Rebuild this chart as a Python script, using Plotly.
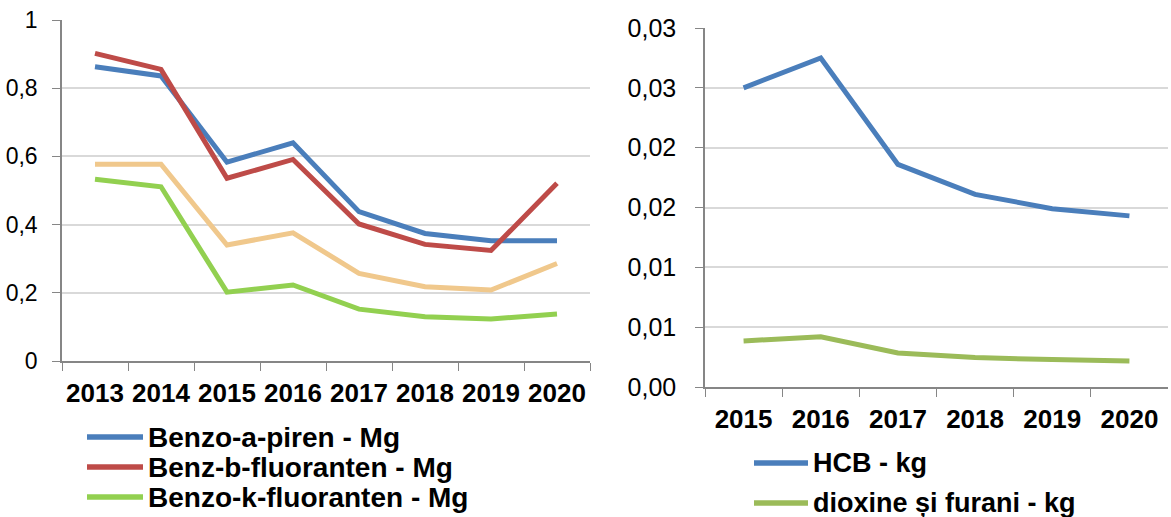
"""Emisii POP - doua grafice cu linii."""

import plotly.graph_objects as go

ani_stanga = ["2013", "2014", "2015", "2016", "2017", "2018", "2019", "2020"]
benzo_a_piren = [0.863, 0.836, 0.583, 0.640, 0.438, 0.374, 0.353, 0.353]
benz_b_fluoranten = [0.902, 0.855, 0.536, 0.591, 0.402, 0.342, 0.324, 0.521]
indeno_piren = [0.577, 0.577, 0.340, 0.376, 0.257, 0.218, 0.208, 0.286]
benzo_k_fluoranten = [0.533, 0.511, 0.202, 0.223, 0.152, 0.130, 0.123, 0.138]

ani_dreapta = ["2015", "2016", "2017", "2018", "2019", "2020"]
hcb = [0.0250, 0.0275, 0.0186, 0.0161, 0.0149, 0.0143]
dioxine_furani = [0.00385, 0.00419, 0.00285, 0.00246, 0.00229, 0.00218]

y2_vals = [0, 0.005, 0.010, 0.015, 0.020, 0.025, 0.030]
y2_text = ["0,00", "0,01", "0,01", "0,02", "0,02", "0,03", "0,03"]

W, H = 1171, 517
FONT = "Liberation Sans, Arial, sans-serif"
GRID = "#D9D9D9"
AXA = "#868686"

fig = go.Figure()

stanga = [
    ("Benzo-a-piren - Mg", benzo_a_piren, "#4A7EBB", True),
    ("Benz-b-fluoranten - Mg", benz_b_fluoranten, "#BE4B48", True),
    ("Indeno(1,2,3-cd)piren - Mg", indeno_piren, "#F0C88C", False),
    ("Benzo-k-fluoranten - Mg", benzo_k_fluoranten, "#92D050", True),
]
for nume, vals, cul, arata in stanga:
    fig.add_trace(go.Scatter(
        x=ani_stanga, y=vals, mode="lines", name=nume,
        line=dict(color=cul, width=5), showlegend=False,
        xaxis="x", yaxis="y",
    ))

dreapta = [
    ("HCB - kg", hcb, "#4A7EBB", True),
    ("dioxine și furani - kg", dioxine_furani, "#9BBB59", True),
]
for nume, vals, cul, arata in dreapta:
    fig.add_trace(go.Scatter(
        x=ani_dreapta, y=vals, mode="lines", name=nume,
        line=dict(color=cul, width=5), showlegend=False,
        xaxis="x2", yaxis="y2",
    ))


# legende desenate manual (liniile din Excel sunt mai lungi decat cele din plotly)
def legenda(serii, x0, x1, y_rand, pas, marime):
    i = 0
    for nume, _, cul, arata in serii:
        if not arata:
            continue
        y = (H - (y_rand + i * pas)) / H
        fig.add_shape(type="line", xref="paper", yref="paper",
                      x0=x0 / W, x1=x1 / W, y0=y, y1=y,
                      line=dict(color=cul, width=5.5))
        fig.add_annotation(x=(x1 + 3) / W, y=y, xref="paper", yref="paper",
                           text=f"<b>{nume}</b>", showarrow=False,
                           xanchor="left", yanchor="middle",
                           font=dict(family=FONT, size=marime, color="black"))
        i += 1


legenda(stanga, 87, 143, 437, 30, 28)
legenda(dreapta, 754, 808, 463, 40, 27)

ax_x = dict(
    type="category", tickson="boundaries", ticks="outside", ticklen=8,
    tickcolor=AXA, showline=True, linecolor=AXA, linewidth=1.5, tickangle=0,
    showgrid=False, tickfont=dict(family=FONT, size=26, color="black", weight="bold"),
    ticklabelstandoff=8, fixedrange=True, automargin=False,
)
ax_y = dict(
    ticks="outside", ticklen=8, tickcolor=AXA, showline=True, linecolor=AXA,
    linewidth=1.5, showgrid=True, gridcolor=GRID, gridwidth=1.5, zeroline=False,
    fixedrange=True, automargin=False,
)

fig.update_layout(
    width=W, height=H,
    margin=dict(l=0, r=0, t=0, b=0, autoexpand=False),
    paper_bgcolor="white", plot_bgcolor="white",
    separators=",.",
    showlegend=False,
    font=dict(family=FONT, color="black"),
    xaxis=dict(ax_x, domain=[62 / W, 590 / W], range=[-0.5, 7.5], anchor="y"),
    yaxis=dict(ax_y, domain=[(H - 361) / H, (H - 20) / H], range=[0, 1], dtick=0.2,
               anchor="x", tickfont=dict(family=FONT, size=23, color="black"),
               ticklabelstandoff=10),
    xaxis2=dict(ax_x, domain=[705 / W, 1168 / W], range=[-0.5, 5.5], anchor="y2"),
    yaxis2=dict(ax_y, domain=[(H - 387) / H, (H - 28) / H], range=[0, 0.030],
                tickvals=y2_vals, ticktext=y2_text, anchor="x2",
                tickfont=dict(family=FONT, size=25, color="black"),
                ticklabelstandoff=14),
)

fig.write_html(
    "out.html",
    config={"displayModeBar": False},
    post_script="document.body.style.margin='0';document.body.style.overflow='hidden';",
)
